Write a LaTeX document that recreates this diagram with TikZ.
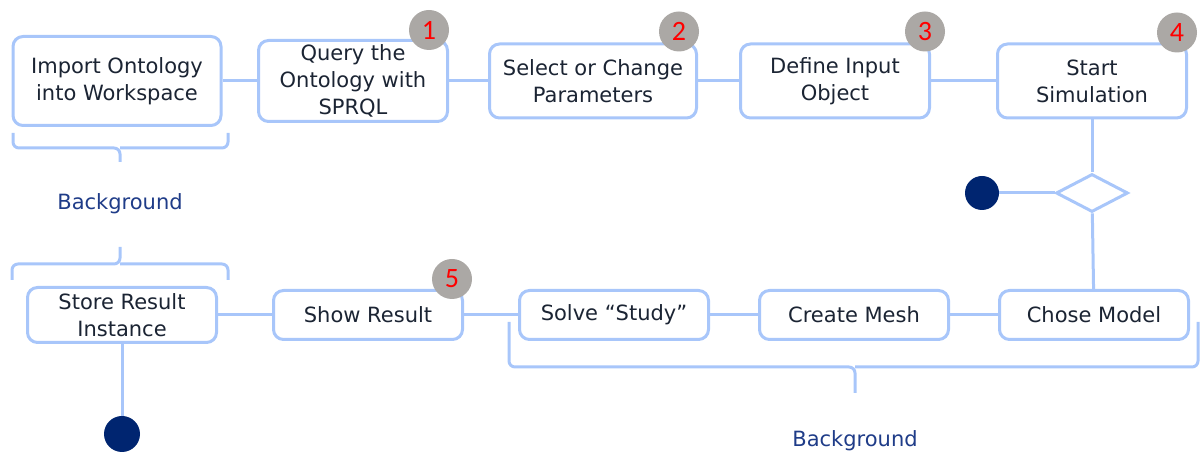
\documentclass[tikz,border=0pt]{standalone}
\usepackage{fontspec}
\setmainfont{DejaVu Sans}
\newfontfamily\badgefont{Carlito}
\usetikzlibrary{shapes.geometric}

\definecolor{flowline}{HTML}{A8C6FA}
\definecolor{badgegray}{HTML}{ABA8A5}
\definecolor{navy}{HTML}{002570}
\definecolor{bgblue}{HTML}{1F3C88}
\definecolor{boxtext}{HTML}{1B2433}

\begin{document}
\begin{tikzpicture}[x=0.5pt,y=-0.5pt,node distance=120pt,
    every edge/.style={draw=flowline,line width=1.5pt},
    activity/.style={draw=flowline,line width=1.5pt,rounded corners=5pt,fill=white,
      align=center,text=boxtext,font=\fontsize{10.5}{13.5}\selectfont,
      minimum width=94.5pt,minimum height=37pt,inner sep=1pt},
    lowact/.style={activity,minimum height=24.5pt},
    badge/.style={circle,fill=badgegray,text=red,minimum size=20pt,inner sep=0pt,
      font=\badgefont\fontsize{14}{14}\selectfont},
    choice/.style={diamond,draw=flowline,line width=1.5pt,fill=white,
      minimum width=36pt,minimum height=19pt,inner sep=0pt},
    endpoint/.style={circle,fill=navy,minimum size=17pt,inner sep=0pt},
    brace/.style={draw=flowline,line width=1.5pt,rounded corners=3pt},
    bglabel/.style={text=bgblue,font=\fontsize{10.5}{13}\selectfont}]
      \useasboundingbox (0,0) rectangle (1201,453);

      %% upper row
      \node[activity, minimum width=104pt, minimum height=44.5pt]
                              (import) at (117,81)        {Import Ontology\\into Workspace};
      \node[activity, minimum height=40.5pt]
                              (query)  [right of=import, xshift=-2pt] {Query the\\Ontology with\\SPRQL};
      \node[activity, minimum width=103.5pt]
                              (select) [right of=query]   {Select or Change\\Parameters};
      \node[activity]         (define) [right of=select, xshift=1pt] {Define Input\\Object};
      \node[activity]         (start)  [right of=define, xshift=8.5pt] {Start\\Simulation};

      \path  (import) edge (query);
      \path  (query)  edge (select);
      \path  (select) edge (define);
      \path  (define) edge (start);

      %% decision
      \node[choice]   (decide) [below of=start, node distance=56pt] {};
      \node[endpoint] (stopsim) [left of=decide, node distance=55pt] {};

      \path  (start)  edge (decide);
      \path  (decide) edge (stopsim);

      %%%%%%%%%%%%%%%%%%%%%%%%%%%%%%%%%%%%%%%%%%%%%%%%%%%%%%%%%%%
      %% lower row
      %%%%%%%%%%%%%%%%%%%%%%%%%%%%%%%%%%%%%%%%%%%%%%%%%%%%%%%%%%%
      \node[lowact]           (chose)  [below of=decide, node distance=61pt, xshift=1pt] {Chose Model};
      \node[lowact]           (mesh)   [left of=chose]    {Create Mesh};
      \node[lowact]           (solve)  [left of=mesh]     {Solve “Study”};
      \node[lowact]           (show)   [left of=solve, xshift=-3pt] {Show Result};
      \node[activity, minimum height=27.5pt]
                              (store)  [left of=show, xshift=-3pt] {Store Result\\Instance};
      \node[endpoint, minimum size=18pt]
                              (stopall) [below of=store, node distance=59.5pt] {};

      \path  (decide) edge (chose);
      \path  (chose)  edge (mesh);
      \path  (mesh)   edge (solve);
      \path  (solve)  edge (show);
      \path  (show)   edge (store);
      \path  (store)  edge (stopall);

      %% step numbers
      \node[badge] (n1) at ([shift={(-20,-9)}]query.north east)   {1};
      \node[badge] (n2) at ([shift={(-19,-11)}]select.north east) {2};
      \node[badge] (n3) at ([shift={(-6,-11)}]define.north east)  {3};
      \node[badge] (n4) at ([shift={(-11,-10)}]start.north east)  {4};
      \node[badge] (n5) at ([shift={(-12,-10)}]show.north east)   {5};

      %%%%%%%%%%%%%%%%%%%%%%%%%%%%%%%%%%%%%%%%%%%%%%%%%%%%%%%%%%
      %% background braces
      \draw[brace] (13,133) |- (120,148) -- (120,162);
      \draw[brace] (228,133) |- (120,148);
      \node[bglabel] (bgupper) at (120,204) {Background};
      \draw[brace] (12,280) |- (120,264) -- (120,247);
      \draw[brace] (228,280) |- (120,264);

      \draw[brace] (509,322) |- (855,367) -- (855,393);
      \draw[brace] (1198,322) |- (855,367);
      \node[bglabel] (bglower) at (855,441) {Background};
    \end{tikzpicture}
\end{document}
